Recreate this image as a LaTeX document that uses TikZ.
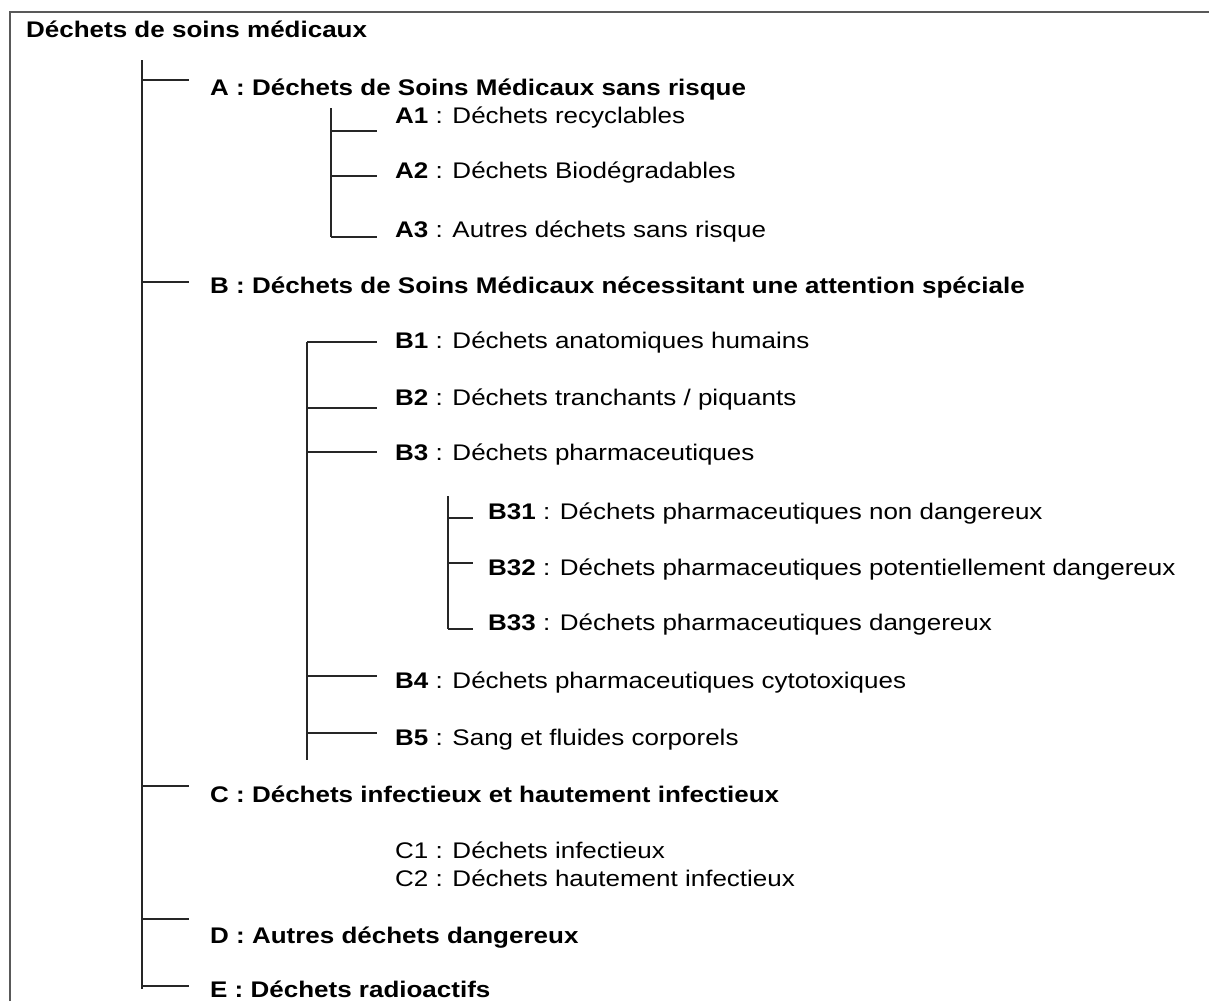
\documentclass[tikz,border=0pt]{standalone}
\usepackage{fontspec}
\setmainfont{Liberation Sans}[FakeStretch=1.15]
\begin{document}
\begin{tikzpicture}[x=1pt,y=-1pt,
  txt/.style={anchor=base west,inner sep=0pt,font=\fontsize{22.6}{26}\selectfont,text=black},
  head/.style={txt,font=\fontsize{22.6}{26}\selectfont\bfseries},
  tree/.style={draw=black!85,line width=1.4pt},
  frame/.style={draw=black!65,line width=1.8pt}]
\useasboundingbox (0,0) rectangle (1209,1001);
\fill[white] (0,0) rectangle (1209,1001);
% frame
\draw[frame] (10,1001) -- (10,12) -- (1209,12);
% texts
\node[head] (root) at (26,37) {Déchets de soins médicaux};
\node[head] (A) at (210,95) {A : Déchets de Soins Médicaux sans risque};
\node[txt] (A1) at (395,123) {\textbf{A1} : Déchets recyclables};
\node[txt] (A2) at (395,178) {\textbf{A2} : Déchets Biodégradables};
\node[txt] (A3) at (395,237) {\textbf{A3} : Autres déchets sans risque};
\node[head] (B) at (210,293) {B : Déchets de Soins Médicaux nécessitant une attention spéciale};
\node[txt] (B1) at (395,348) {\textbf{B1} : Déchets anatomiques humains};
\node[txt] (B2) at (395,405) {\textbf{B2} : Déchets tranchants / piquants};
\node[txt] (B3) at (395,460) {\textbf{B3} : Déchets pharmaceutiques};
\node[txt] (B31) at (488,519) {\textbf{B31} : Déchets pharmaceutiques non dangereux};
\node[txt] (B32) at (488,575) {\textbf{B32} : Déchets pharmaceutiques potentiellement dangereux};
\node[txt] (B33) at (488,630) {\textbf{B33} : Déchets pharmaceutiques dangereux};
\node[txt] (B4) at (395,688) {\textbf{B4} : Déchets pharmaceutiques cytotoxiques};
\node[txt] (B5) at (395,745) {\textbf{B5} : Sang et fluides corporels};
\node[head] (C) at (210,802) {C : Déchets infectieux et hautement infectieux};
\node[txt] (C1) at (395,858) {C1 : Déchets infectieux};
\node[txt] (C2) at (395,886) {C2 : Déchets hautement infectieux};
\node[head] (D) at (210,943) {D : Autres déchets dangereux};
\node[head] (E) at (210,997) {E : Déchets radioactifs};
% trunk
\coordinate (t0) at (142,60);
\coordinate (t1) at (142,989);
\draw[tree] (t0) -- (t1);
\foreach \n/\y in {A/80,B/282,C/786,D/919,E/986}
  \draw[tree] (142,\y) -- (189,\y) coordinate (e\n);
% A subtree
\coordinate (a0) at (331,108);
\coordinate (a1) at (331,237);
\draw[tree] (a0) -- (a1);
\foreach \n/\y in {A1/131,A2/176,A3/237}
  \draw[tree] (331,\y) -- (377,\y) coordinate (e\n);
% B subtree
\coordinate (b0) at (307,342);
\coordinate (b1) at (307,760);
\draw[tree] (b0) -- (b1);
\foreach \n/\y in {B1/342,B2/408,B3/452,B4/676,B5/733}
  \draw[tree] (307,\y) -- (377,\y) coordinate (e\n);
% B3 subtree
\coordinate (c0) at (448,496);
\coordinate (c1) at (448,629);
\draw[tree] (c0) -- (c1);
\foreach \n/\y in {B31/518,B32/563,B33/629}
  \draw[tree] (448,\y) -- (473,\y) coordinate (e\n);
\end{tikzpicture}
\end{document}
